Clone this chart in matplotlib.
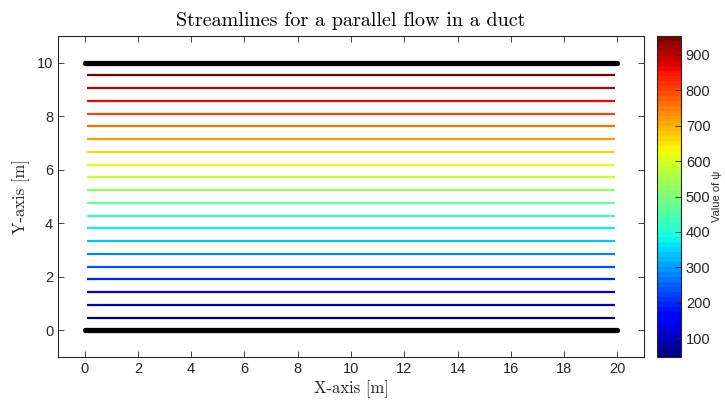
import matplotlib
matplotlib.use("Agg")
import matplotlib.pyplot as plt
import numpy as np
from matplotlib.colors import Normalize
from matplotlib.cm import ScalarMappable

# stream function values of the drawn streamlines (psi = U * y)
U = 100.0
psi_levels = [47.6, 95.2, 142.9, 190.5, 238.1, 285.7, 333.3, 381.0, 428.6, 476.2,
              523.8, 571.4, 619.0, 666.7, 714.3, 761.9, 809.5, 857.1, 904.8, 952.4]
line_x = [0.1, 19.9]
wall_x = [0.0, 20.0]
wall_y = [0.0, 10.0]

x_ticks = [0, 2, 4, 6, 8, 10, 12, 14, 16, 18, 20]
y_ticks = [0, 2, 4, 6, 8, 10]
cbar_ticks = [100, 200, 300, 400, 500, 600, 700, 800, 900]

dark = (0.15, 0.15, 0.15)
plt.rcParams['font.family'] = ['Liberation Sans', 'DejaVu Sans']

fig = plt.figure(figsize=(7.25, 4.05), dpi=100)
ax = fig.add_axes([58 / 725, 1 - 357 / 405, 586 / 725, 321 / 405])
cax = fig.add_axes([657 / 725, 1 - 357 / 405, 24 / 725, 321 / 405])

cmap = plt.get_cmap('jet', 64)
norm = Normalize(vmin=min(psi_levels), vmax=max(psi_levels))

for psi in psi_levels:
    ax.plot(line_x, [psi / U, psi / U], color=cmap(norm(psi)), lw=1.6,
            solid_capstyle='butt')

for yw in wall_y:
    ax.plot(wall_x, [yw, yw], color='black', lw=3.8, solid_capstyle='round')

ax.set_xlim(-1, 21)
ax.set_ylim(-1, 11)
ax.set_xticks(x_ticks)
ax.set_yticks(y_ticks)
ax.tick_params(direction='in', top=True, right=True, length=4.5, width=0.6,
               colors=dark, labelsize=10.5, labelcolor=dark)
for sp in ax.spines.values():
    sp.set_color(dark)
    sp.set_linewidth(0.8)

ax.set_title('Streamlines for a parallel flow in a duct', family='cmr10',
             fontsize=14.5, color='black', pad=7)
ax.set_xlabel('X-axis [m]', family='cmr10', fontsize=12, color=dark, labelpad=3)
ax.set_ylabel('Y-axis [m]', family='cmr10', fontsize=12, color=dark, labelpad=5)

sm = ScalarMappable(norm=norm, cmap=cmap)
cb = fig.colorbar(sm, cax=cax)
cb.set_ticks(cbar_ticks)
cax.tick_params(direction='in', length=4.5, width=0.6, colors=dark, labelsize=10.5,
                labelcolor=dark)
cb.outline.set_edgecolor(dark)
cb.outline.set_linewidth(0.8)
cb.set_label('Value of ψ', fontsize=8, color=dark, labelpad=1)

fig.savefig('out.png', dpi=100)
